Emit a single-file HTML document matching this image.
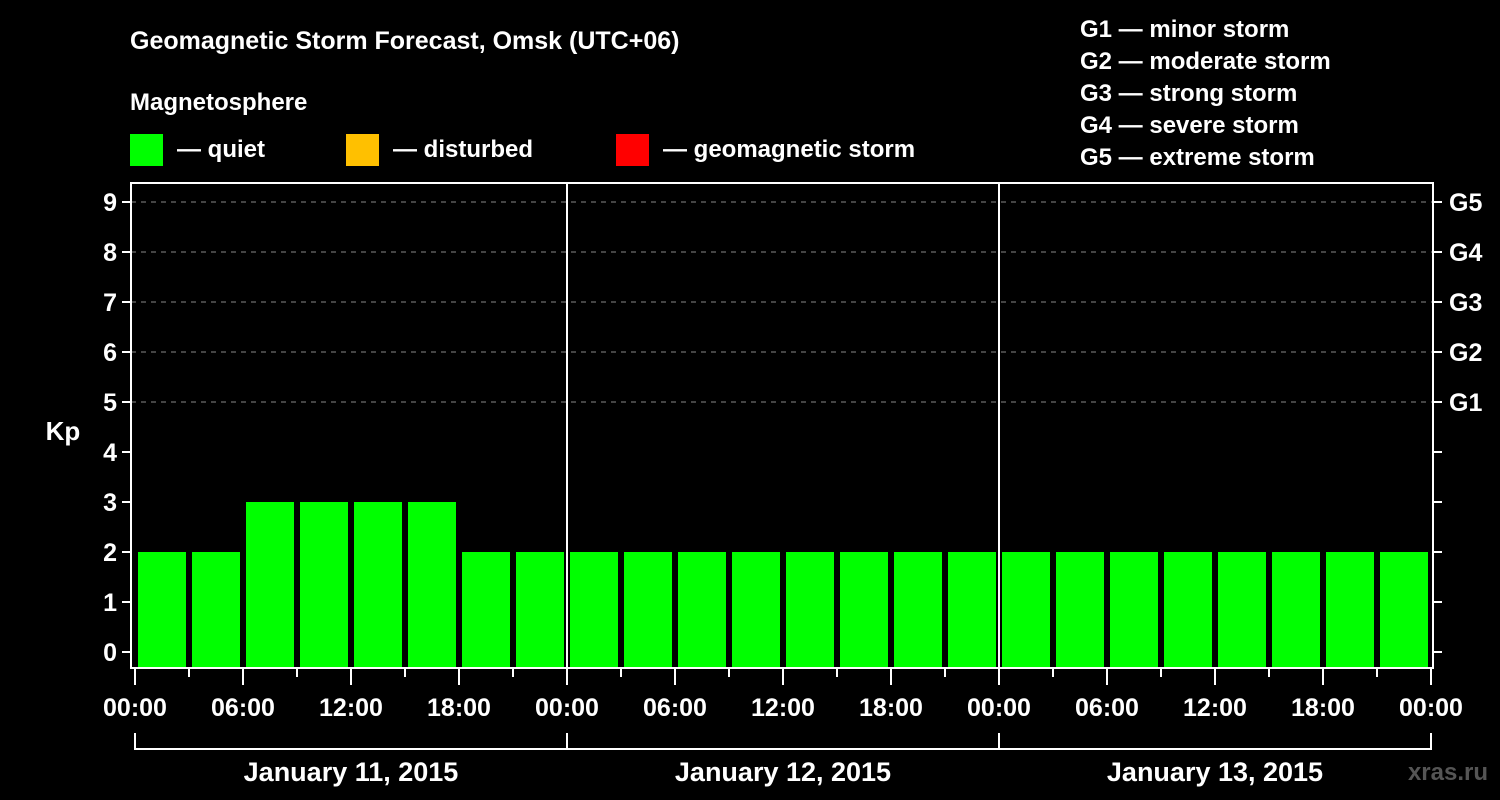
<!DOCTYPE html>
<html><head><meta charset="utf-8"><style>
body{margin:0;background:#000;}
svg{display:block;font-family:"Liberation Sans",Arial,sans-serif;font-weight:bold;}
</style></head><body>
<svg id="c" width="1500" height="800" viewBox="0 0 1500 800">
<rect width="1500" height="800" fill="#000"/>
<text x="130" y="49" fill="#fff" font-size="25">Geomagnetic Storm Forecast, Omsk (UTC+06)</text>
<text x="130" y="110" fill="#fff" font-size="24">Magnetosphere</text>
<g><rect x="130" y="134" width="33" height="32" fill="#00ff00"/><text x="177" y="157" fill="#fff" font-size="24">— quiet</text></g>
<g><rect x="346" y="134" width="33" height="32" fill="#ffc000"/><text x="393" y="157" fill="#fff" font-size="24">— disturbed</text></g>
<g><rect x="616" y="134" width="33" height="32" fill="#ff0000"/><text x="663" y="157" fill="#fff" font-size="24">— geomagnetic storm</text></g>
<g fill="#fff" font-size="24">
<text x="1080" y="37">G1 — minor storm</text>
<text x="1080" y="69">G2 — moderate storm</text>
<text x="1080" y="101">G3 — strong storm</text>
<text x="1080" y="133">G4 — severe storm</text>
<text x="1080" y="165">G5 — extreme storm</text>
</g>
<text x="63" y="440" fill="#fff" font-size="26" text-anchor="middle">Kp</text>
<text x="1488" y="780" fill="#555" font-size="24" text-anchor="end">xras.ru</text>
<g id="g"></g>
</svg>
<script>
const kpValues=[2,2,3,3,3,3,2,2, 2,2,2,2,2,2,2,2, 2,2,2,2,2,2,2,2];
const kpTicks=[0,1,2,3,4,5,6,7,8,9];
const gLabels=[[5,"G1"],[6,"G2"],[7,"G3"],[8,"G4"],[9,"G5"]];
const timeLabels=["00:00","06:00","12:00","18:00"];
const dayLabels=["January 11, 2015","January 12, 2015","January 13, 2015"];
const NS="http://www.w3.org/2000/svg";
const g=document.getElementById('g');
function el(t,a,txt){const e=document.createElementNS(NS,t);for(const k in a)e.setAttribute(k,a[k]);if(txt!=null)e.textContent=txt;g.appendChild(e);return e;}
const X0=135,SLOT=54,L=131,R=1433,T=183,B=668;
const y=v=>652-50*v;
const x=i=>X0+i*SLOT;
// grid
for(const v of kpTicks){
 if(v>=5){const l=el('line',{x1:L,x2:R,y1:y(v),y2:y(v),stroke:'#888','stroke-dasharray':'5,5','stroke-width':1});
 }
 const t=el('line',{x1:L-9,x2:L,y1:y(v),y2:y(v),stroke:'#fff','stroke-width':2});
 
 const t2=el('line',{x1:R,x2:R+9,y1:y(v),y2:y(v),stroke:'#fff','stroke-width':2});
 
 const lb=el('text',{x:L-14,y:y(v)+9,fill:'#fff','font-size':25,'text-anchor':'end'},String(v));
 
}
for(const [v,s] of gLabels){
 const lb=el('text',{x:1449,y:y(v)+9,fill:'#fff','font-size':25},s);
 
}
// bars
kpValues.forEach((v,i)=>{
 const col=v>=5?'#ff0000':(v>=4?'#ffc000':'#00ff00');
 const b=el('rect',{x:x(i)+3,y:y(v),width:48,height:B-y(v),fill:col});
 
});
// frame
const f=el('rect',{x:L,y:T,width:R-L,height:B-T,fill:'none',stroke:'#fff','stroke-width':2});

for(let d=1;d<dayLabels.length;d++){
 const s=el('line',{x1:x(d*8),x2:x(d*8),y1:T,y2:B,stroke:'#fff','stroke-width':2});
 
}
// x ticks
for(let i=0;i<=kpValues.length;i++){
 const major=i%2===0;
 const t=el('line',{x1:x(i),x2:x(i),y1:B,y2:major?685:677,stroke:'#fff','stroke-width':2});
 
 if(major){
  const lb=el('text',{x:x(i),y:716,fill:'#fff','font-size':25,'text-anchor':'middle'},timeLabels[(i/2)%4]);
  
 }
}
dayLabels.forEach((s,d)=>{
 const a=x(d*8),b=x(d*8+8);
 const p=el('path',{d:`M${a},733V749H${b}V733`,fill:'none',stroke:'#fff','stroke-width':2});
 
 const lb=el('text',{x:(a+b)/2,y:781,fill:'#fff','font-size':27,'text-anchor':'middle'},s);
 
});
</script>
</body></html>
